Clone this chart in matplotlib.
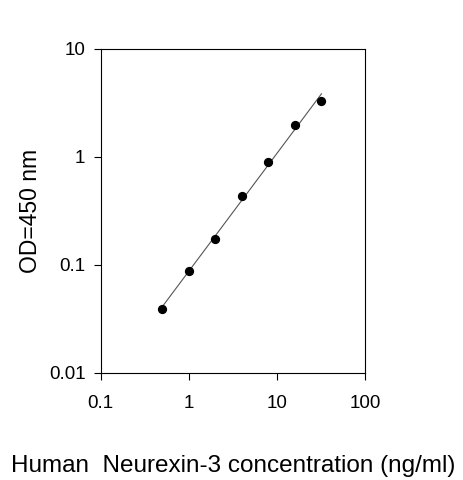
import numpy as np
import matplotlib
matplotlib.use("Agg")
import matplotlib.pyplot as plt
from matplotlib.ticker import FixedLocator, FixedFormatter, NullLocator

plt.rcParams['font.family'] = ['Liberation Sans', 'DejaVu Sans']

# standard curve points
conc = [0.5, 1, 2, 4, 8, 16, 32]
od = [0.039, 0.0885, 0.175, 0.438, 0.90, 1.99, 3.30]

xticks = [0.1, 1, 10, 100]
xtick_labels = ["0.1", "1", "10", "100"]
yticks = [0.01, 0.1, 1, 10]
ytick_labels = ["0.01", "0.1", "1", "10"]

fig = plt.figure(figsize=(4.63, 4.8), dpi=100)
ax = fig.add_axes([0.2175, 0.223, 0.571, 0.675])

# power-law fit drawn as a straight line on log-log axes
slope, icept = np.polyfit(np.log10(conc), np.log10(od), 1)
fx = np.array([conc[0], conc[-1]])
fy = 10 ** (icept + slope * np.log10(fx))
ax.plot(fx, fy, color='#555555', lw=0.8, zorder=1)
ax.scatter(conc, od, s=32, color='black', zorder=2)

ax.set_xscale('log')
ax.set_yscale('log')
ax.set_xlim(0.1, 100)
ax.set_ylim(0.01, 10)
ax.xaxis.set_major_locator(FixedLocator(xticks))
ax.xaxis.set_major_formatter(FixedFormatter(xtick_labels))
ax.yaxis.set_major_locator(FixedLocator(yticks))
ax.yaxis.set_major_formatter(FixedFormatter(ytick_labels))
ax.xaxis.set_minor_locator(NullLocator())
ax.yaxis.set_minor_locator(NullLocator())
ax.tick_params(direction='out', length=5, width=0.8, labelsize=13.5)
ax.tick_params(axis='x', pad=11)
ax.tick_params(axis='y', pad=6)

for sp in ax.spines.values():
    sp.set_linewidth(0.8)

ax.set_xlabel("Human  Neurexin-3 concentration (ng/ml)", fontsize=17.5, labelpad=31)
ax.set_ylabel("OD=450 nm", fontsize=16.5, labelpad=5)

fig.savefig("out.png", dpi=100)
